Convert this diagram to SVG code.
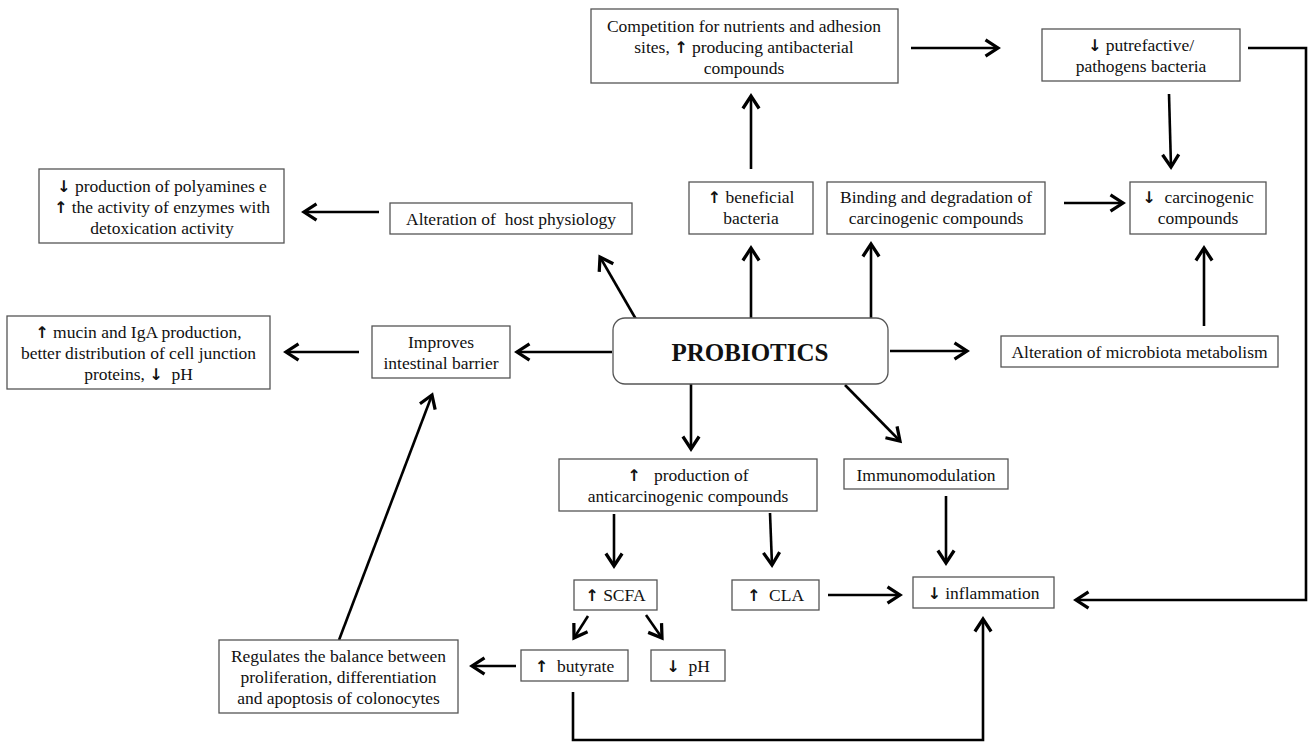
<svg xmlns="http://www.w3.org/2000/svg" width="1311" height="743" viewBox="0 0 1311 743">
<defs>
<marker id="ah" markerUnits="userSpaceOnUse" markerWidth="20" markerHeight="20" refX="0" refY="0" viewBox="-12 -8 14 16" orient="auto" overflow="visible">
<path d="M-10,-6.5 L0,0 L-10,6.5" fill="none" stroke="#000" stroke-width="2.6" stroke-linejoin="miter"/>
</marker>
<style>
.box{fill:#fff;stroke:#555;stroke-width:1.3}
.t{font-family:"Liberation Serif","Times New Roman",serif;font-size:17.5px;fill:#111;text-anchor:middle;white-space:pre}
.ar{font-family:"DejaVu Sans",sans-serif;font-size:16px;font-weight:bold;fill:#111}
.big{font-family:"Liberation Serif","Times New Roman",serif;font-size:25px;font-weight:bold;fill:#111;text-anchor:middle}
.c{fill:none;stroke:#000;stroke-width:2.6}
.a{marker-end:url(#ah)}
</style>
</defs>
<rect width="1311" height="743" fill="#fff"/>
<g id="connectors">
<path class="c a" d="M751,169 L751,96"/>
<path class="c a" d="M911,48 L998,48"/>
<path class="c a" d="M1169,94 L1171,167"/>
<path class="c a" d="M1248,48 H1306 V600 H1076"/>
<path class="c a" d="M379,212 L304,212"/>
<path class="c a" d="M637,321 L600,257"/>
<path class="c a" d="M751,318 L751,248"/>
<path class="c a" d="M871,318 L871,244"/>
<path class="c a" d="M1064,203 L1123,203"/>
<path class="c a" d="M1204,326 L1204,248"/>
<path class="c a" d="M612,352 L517,352"/>
<path class="c a" d="M359,352 L286,352"/>
<path class="c a" d="M890,351 L967,351"/>
<path class="c a" d="M691,384 L691,449"/>
<path class="c a" d="M845,385 L900,441"/>
<path class="c a" d="M614,514 L614,566"/>
<path class="c a" d="M770,513 L772,565"/>
<path class="c a" d="M946,496 L946,563"/>
<path class="c a" d="M828,595 L900,595"/>
<path class="c a" d="M588,616 L574,638"/>
<path class="c a" d="M646,615 L662,638"/>
<path class="c a" d="M516,666 L472,666"/>
<path class="c a" d="M339,640 L432,395"/>
<path class="c a" d="M573,692 V740 H983 V619"/>
</g>
<g id="competition"><rect class="box" x="591" y="9" width="307" height="74"/>
<text class="t" x="744" y="32">Competition for nutrients and adhesion</text>
<text class="t" x="744" y="53">sites, <tspan class="ar">↑</tspan> producing antibacterial</text>
<text class="t" x="744" y="74">compounds</text></g>
<g id="putrefactive"><rect class="box" x="1042" y="29" width="198" height="52"/>
<text class="t" x="1141" y="51"><tspan class="ar">↓</tspan> putrefactive/</text>
<text class="t" x="1141" y="72">pathogens bacteria</text></g>
<g id="polyamines"><rect class="box" x="39" y="169" width="245" height="74"/>
<text class="t" x="162" y="192"><tspan class="ar">↓</tspan> production of polyamines e</text>
<text class="t" x="162" y="213"><tspan class="ar">↑</tspan> the activity of enzymes with</text>
<text class="t" x="162" y="234">detoxication activity</text></g>
<g id="host"><rect class="box" x="390" y="203" width="242" height="31"/>
<text class="t" x="511" y="225">Alteration of  host physiology</text></g>
<g id="beneficial"><rect class="box" x="689" y="182" width="124" height="52"/>
<text class="t" x="751" y="203"><tspan class="ar">↑</tspan> beneficial</text>
<text class="t" x="751" y="224">bacteria</text></g>
<g id="binding"><rect class="box" x="827" y="182" width="218" height="52"/>
<text class="t" x="936" y="203">Binding and degradation of</text>
<text class="t" x="936" y="224">carcinogenic compounds</text></g>
<g id="carcinogenic"><rect class="box" x="1130" y="182" width="136" height="52"/>
<text class="t" x="1198" y="203"><tspan class="ar">↓</tspan>  carcinogenic</text>
<text class="t" x="1198" y="224">compounds</text></g>
<g id="mucin"><rect class="box" x="7" y="316" width="263" height="73"/>
<text class="t" x="138.5" y="338"><tspan class="ar">↑</tspan> mucin and IgA production,</text>
<text class="t" x="138.5" y="359">better distribution of cell junction</text>
<text class="t" x="138.5" y="380">proteins, <tspan class="ar">↓</tspan>  pH</text></g>
<g id="barrier"><rect class="box" x="372" y="326" width="138" height="52"/>
<text class="t" x="441" y="348">Improves</text>
<text class="t" x="441" y="369">intestinal barrier</text></g>
<g id="probiotics"><rect class="box" x="613" y="318" width="275" height="66" rx="12"/>
<text class="big" x="750" y="361">PROBIOTICS</text></g>
<g id="microbiota"><rect class="box" x="1001" y="336" width="277" height="31"/>
<text class="t" x="1139.5" y="358">Alteration of microbiota metabolism</text></g>
<g id="anticarcinogenic"><rect class="box" x="559" y="459" width="258" height="52"/>
<text class="t" x="688" y="481"><tspan class="ar">↑</tspan>   production of</text>
<text class="t" x="688" y="502">anticarcinogenic compounds</text></g>
<g id="immunomodulation"><rect class="box" x="844" y="459" width="164" height="30"/>
<text class="t" x="926" y="481">Immunomodulation</text></g>
<g id="scfa"><rect class="box" x="574" y="580" width="83" height="30"/>
<text class="t" x="615.5" y="601"><tspan class="ar">↑</tspan> SCFA</text></g>
<g id="cla"><rect class="box" x="732" y="580" width="87" height="30"/>
<text class="t" x="775.5" y="601"><tspan class="ar">↑</tspan>  CLA</text></g>
<g id="inflammation"><rect class="box" x="913" y="577" width="141" height="31"/>
<text class="t" x="983.5" y="599"><tspan class="ar">↓</tspan> inflammation</text></g>
<g id="regulates"><rect class="box" x="219" y="640" width="239" height="73"/>
<text class="t" x="338.5" y="662">Regulates the balance between</text>
<text class="t" x="338.5" y="683">proliferation, differentiation</text>
<text class="t" x="338.5" y="704">and apoptosis of colonocytes</text></g>
<g id="butyrate"><rect class="box" x="521" y="650" width="107" height="31"/>
<text class="t" x="574.5" y="672"><tspan class="ar">↑</tspan>  butyrate</text></g>
<g id="ph"><rect class="box" x="651" y="650" width="74" height="31"/>
<text class="t" x="688" y="672"><tspan class="ar">↓</tspan>  pH</text></g>
</svg>
